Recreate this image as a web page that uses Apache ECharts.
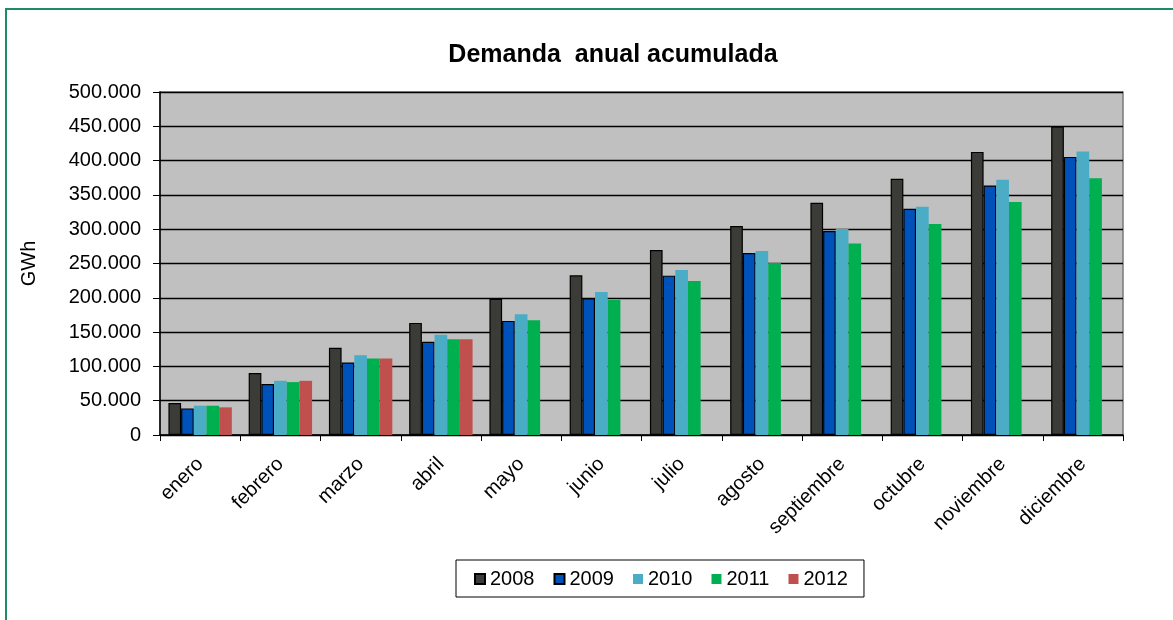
<!DOCTYPE html>
<html>
<head>
<meta charset="utf-8">
<script src="https://cdn.jsdelivr.net/npm/echarts@6/dist/echarts.min.js"></script>
<style>
html,body{margin:0;padding:0;background:#fff;}
#chart{width:1173px;height:620px;}
</style>
</head>
<body>
<div id="chart"></div>
<script>
const months = ['enero','febrero','marzo','abril','mayo','junio','julio','agosto','septiembre','octubre','noviembre','diciembre'];
const years = ['2008','2009','2010','2011','2012'];
const d2008 = [46600, 90200, 127100, 163400, 198400, 232800, 269600, 304600, 338500, 373400, 412700, 449600];
const d2009 = [38800, 74200, 105700, 135800, 166300, 199300, 232300, 265300, 297300, 329800, 363700, 405400];
const d2010 = [42700, 79000, 116400, 146000, 176000, 208500, 240500, 268200, 300200, 332700, 372000, 413200];
const d2011 = [42700, 77100, 111500, 139700, 167300, 196900, 224500, 250700, 279300, 307500, 339500, 374400];
const d2012 = [40300, 79000, 111500, 139700, null, null, null, null, null, null, null, null];
const yTicks = [0, 50000, 100000, 150000, 200000, 250000, 300000, 350000, 400000, 450000, 500000];

const seriesData = [d2008, d2009, d2010, d2011, d2012];
const colors = ['#3b3c38', '#0052bb', '#4bacc6', '#00b050', '#c0504d'];
const bordered = [true, true, false, false, false];

function fmt(v) {
  return String(v).replace(/\B(?=(\d{3})+(?!\d))/g, '.');
}

const chart = echarts.init(document.getElementById('chart'), null, {renderer: 'canvas'});
const font = 'Liberation Sans, Arial, sans-serif';
chart.setOption({
  animation: false,
  backgroundColor: '#ffffff',
  textStyle: {fontFamily: font},
  title: {
    text: 'Demanda  anual acumulada',
    left: 608, top: 38, textAlign: 'center',
    textStyle: {fontFamily: font, fontSize: 25, fontWeight: 'bold', color: '#000'}
  },
  graphic: [{
    type: 'rect', shape: {x: 6, y: 9, width: 1200, height: 700},
    style: {fill: 'none', stroke: '#1e8a66', lineWidth: 2}, silent: true, z: 100
  }],
  legend: {
    data: years,
    left: 456, top: 560,
    padding: [9, 16, 8, 18],
    itemWidth: 10, itemHeight: 10, itemGap: 19,
    borderColor: '#000', borderWidth: 1,
    icon: 'rect',
    textStyle: {fontFamily: font, fontSize: 20, color: '#000'}
  },
  grid: {
    left: 160, right: 50, top: 92, bottom: 185,
    show: true, backgroundColor: '#c0c0c0', borderColor: '#7a7a7a', borderWidth: 1.5
  },
  xAxis: {
    type: 'category', data: months,
    axisLine: {lineStyle: {color: '#000', width: 1.5}},
    axisTick: {show: true, length: 6, lineStyle: {color: '#000'}},
    axisLabel: {rotate: 45, margin: 26, fontFamily: font, fontSize: 20, color: '#000'}
  },
  yAxis: {
    type: 'value', min: yTicks[0], max: yTicks[yTicks.length - 1], interval: yTicks[1] - yTicks[0],
    name: 'GWh', nameLocation: 'middle', nameGap: 121, nameRotate: 90,
    nameTextStyle: {fontFamily: font, fontSize: 20, color: '#000'},
    axisLine: {show: true, lineStyle: {color: '#000', width: 1.5}},
    axisTick: {show: true, length: 7, lineStyle: {color: '#000'}},
    axisLabel: {margin: 19, fontFamily: font, fontSize: 20, color: '#000', formatter: fmt},
    splitLine: {show: true, lineStyle: {color: '#000', width: 1.3}}
  },
  series: years.map((y, i) => ({
    name: y, type: 'bar', data: seriesData[i],
    barGap: '0%', barCategoryGap: '21%',
    itemStyle: {color: colors[i], borderColor: bordered[i] ? '#000' : colors[i], borderWidth: bordered[i] ? 1.2 : 0}
  }))
});
</script>
</body>
</html>
